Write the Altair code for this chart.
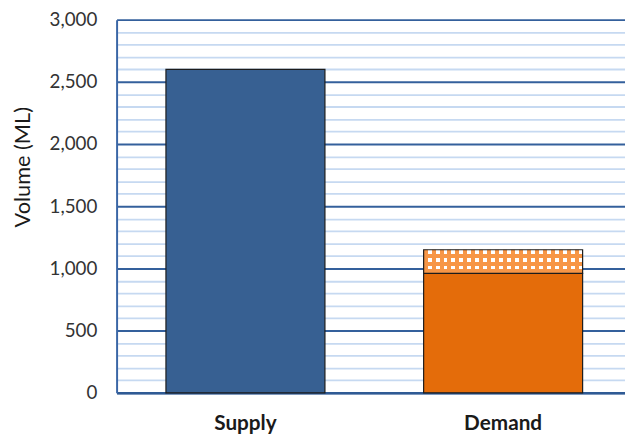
import altair as alt
import pandas as pd

categories = ["Supply", "Demand"]
base_values = [2600, 960]
extra_start = [960]
extra_end = [1150]
extra_category = ["Demand"]
bar_colors = ["#376092", "#E46C0A"]

base_df = pd.DataFrame({"category": categories, "value": base_values, "color": bar_colors})
extra_df = pd.DataFrame({"category": extra_category, "start": extra_start, "end": extra_end})

ORANGE_LIGHT = "#F79646"
FONT = "Lato"

# horizontal stripes (white / orange)
h_stops = []
n_rows = 3
for i in range(n_rows):
    a = i / n_rows
    m = (i + 0.5) / n_rows
    b = (i + 1) / n_rows
    h_stops += [
        alt.GradientStop(offset=a, color="#FFFFFF"),
        alt.GradientStop(offset=m, color="#FFFFFF"),
        alt.GradientStop(offset=m, color=ORANGE_LIGHT),
        alt.GradientStop(offset=b, color=ORANGE_LIGHT),
    ]
# vertical stripes (orange / transparent)
v_stops = []
n_cols = 20
for i in range(n_cols):
    a = i / n_cols
    m = (i + 0.5) / n_cols
    b = (i + 1) / n_cols
    v_stops += [
        alt.GradientStop(offset=a, color="rgba(247,150,70,1)"),
        alt.GradientStop(offset=m, color="rgba(247,150,70,1)"),
        alt.GradientStop(offset=m, color="rgba(247,150,70,0)"),
        alt.GradientStop(offset=b, color="rgba(247,150,70,0)"),
    ]

x_enc = alt.X(
    "category:N",
    sort=categories,
    title=None,
    scale=alt.Scale(paddingInner=0.383, paddingOuter=0.178, align=0.538),
    axis=alt.Axis(
        labelAngle=0,
        labelFont=FONT,
        labelFontSize=21,
        labelFontWeight="bold",
        labelColor="#1a1a1a",
        labelPadding=20,
        ticks=False,
        domainColor="#2F5A94",
        domainWidth=2.5,
        grid=False,
    ),
)

y_scale = alt.Scale(domain=[0, 3000], nice=False)
y_axis = alt.Axis(
    values=list(range(0, 3001, 100)),
    labelExpr="datum.value % 500 === 0 ? format(datum.value, ',') : ''",
    labelOverlap=False,
    labelFont=FONT,
    labelFontSize=19,
    labelColor="#333333",
    labelPadding=20,
    ticks=False,
    domainColor="#3A66A6",
    domainWidth=2,
    grid=True,
    gridColor=alt.condition("datum.value % 500 === 0", alt.value("#34609C"), alt.value("#C6D9F1")),
    gridWidth=alt.condition("datum.value % 500 === 0", alt.value(2), alt.value(1.8)),
    title="Volume  (ML)",
    titleFont=FONT,
    titleFontSize=22,
    titleFontWeight="normal",
    titleColor="#1a1a1a",
    titleAngle=270,
    titleAlign="center",
    titleBaseline="middle",
    titleX=-95,
    titleY=149,
)

base = alt.Chart(base_df).mark_bar(stroke="#1c1c1c", strokeWidth=1.2).encode(
    x=x_enc,
    y=alt.Y("value:Q", scale=y_scale, axis=y_axis),
    color=alt.Color("color:N", scale=None),
)

extra_h = alt.Chart(extra_df).mark_bar(
    fill=alt.Gradient(gradient="linear", stops=h_stops, x1=0, x2=0, y1=0, y2=1)
).encode(
    x=x_enc,
    y=alt.Y("start:Q", scale=y_scale, axis=y_axis),
    y2="end:Q",
)
extra_v = alt.Chart(extra_df).mark_bar(
    fill=alt.Gradient(gradient="linear", stops=v_stops, x1=0, x2=1, y1=0, y2=0)
).encode(
    x=x_enc,
    y=alt.Y("start:Q", scale=y_scale, axis=y_axis),
    y2="end:Q",
)
extra_border = alt.Chart(extra_df).mark_bar(
    fillOpacity=0, stroke="#1c1c1c", strokeWidth=1.2
).encode(
    x=x_enc,
    y=alt.Y("start:Q", scale=y_scale, axis=y_axis),
    y2="end:Q",
)

chart = alt.layer(base, extra_h, extra_v, extra_border).properties(
    width=515,
    height=378,
    autosize=alt.AutoSizeParams(type="none"),
    padding={"left": 110, "top": 9, "right": 0, "bottom": 44},
).configure_view(stroke=None)

chart.save("out.html", embed_options={"renderer": "svg", "actions": False})
